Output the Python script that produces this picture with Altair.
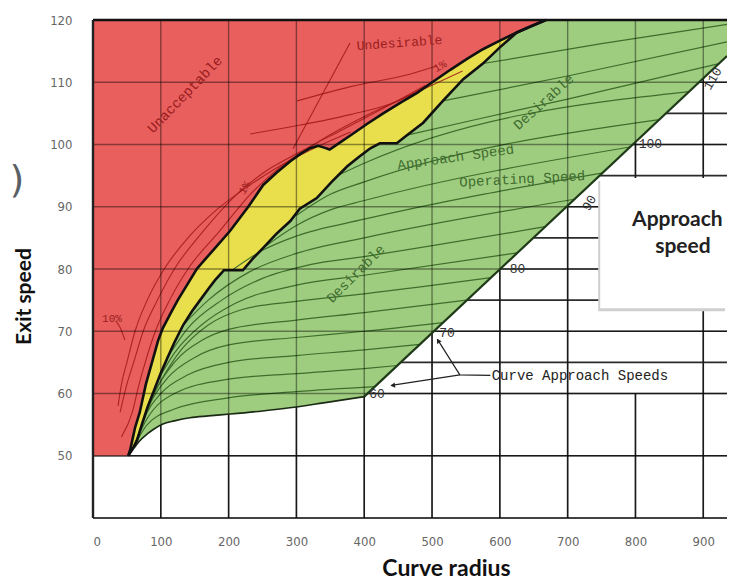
import altair as alt
import pandas as pd

XD = [0, 935]
YD = [40, 120]

# ---- region boundaries (data units) ----
upper_x = [52, 55, 62, 69, 78, 87, 96, 103, 114, 125, 139, 153, 165, 177, 202, 229, 251, 271, 291, 306, 320, 332, 341, 349, 364, 379, 404, 428, 453, 478, 503, 527, 551, 575, 600, 625, 646, 668]
upper_y = [50, 51, 54.5, 57, 61.5, 65, 68.5, 70.5, 72.8, 75, 77.5, 80, 81.5, 83, 86.1, 90, 93.5, 95.5, 97.3, 98.5, 99.4, 99.8, 99.5, 99.2, 100.3, 101.4, 103.3, 105, 106.7, 108.3, 110.2, 112, 113.7, 115.3, 116.7, 118, 119, 120]
lower_x = [52, 58, 65, 72, 80, 90, 100, 110, 120, 133, 146, 158, 170, 180, 190, 193, 221, 236, 251, 270, 291, 305, 330, 352, 375, 392, 409, 423, 448, 463, 487, 516, 546, 575, 600, 625, 646, 668]
lower_y = [50, 51, 52.5, 55, 57.7, 60.5, 63.3, 65.8, 68.2, 71, 73.2, 75, 76.8, 78.2, 79.4, 79.8, 79.8, 81.7, 83.4, 85.6, 87.7, 89.7, 91.4, 94, 96.5, 98, 99.4, 100.2, 100.2, 101.5, 103.5, 107, 110.5, 113, 115.6, 118, 119, 120]
green_bottom_x = [52, 56, 60, 68, 80, 90, 103, 120, 143, 170, 202, 250, 290, 340, 400, 935]
green_bottom_y = [50, 50.7, 51.2, 52.3, 53.5, 54.3, 55.1, 55.6, 56.1, 56.4, 56.7, 57.2, 57.7, 58.5, 59.5, 114.2]
diag_x = [400, 935]
diag_y = [59.5, 114.2]

# ---- curve approach speed lines inside the desirable zone ----
green_lines = [
    ([58, 80, 120, 200, 300, 416], [51, 55, 57.5, 59.3, 60.3, 61.1]),
    ([60, 80, 120, 200, 300, 400, 449], [51.6, 56, 60, 62.3, 63.2, 64, 64.5]),
    ([63, 80, 100, 140, 200, 300, 400, 482], [52.3, 57, 60, 63, 65, 66.1, 67, 67.9]),
    ([66, 85, 110, 150, 200, 300, 400, 516], [53, 58.5, 62.5, 65.8, 67.8, 69, 70, 71.4]),
    ([72, 90, 120, 160, 200, 300, 400, 551], [55, 60, 65, 68.5, 70.3, 71.8, 73, 75]),
    ([80, 100, 130, 170, 220, 300, 400, 587], [57.7, 62, 67, 71, 73.5, 74.8, 76, 78.6]),
    ([95, 120, 160, 210, 300, 400, 626], [62, 66.5, 71, 74.5, 77.4, 79, 82.6]),
    ([110, 140, 190, 250, 320, 400, 667], [65.8, 70.5, 75, 78.5, 80.7, 82, 86.8]),
    ([133, 170, 230, 300, 400, 710], [71, 75, 79.5, 82.5, 85, 91.2]),
    ([205, 250, 300, 400, 750], [79.8, 83, 85.3, 88, 95.4]),
    ([251, 300, 350, 400, 792], [83.4, 87, 89.5, 91, 99.6]),
    ([300, 350, 400, 835], [88.6, 92, 94, 104]),
    ([360, 400, 879], [95, 97, 108.5]),
    ([463, 560, 700, 923], [101.5, 103.9, 107.3, 113]),
    ([516, 700, 935], [107, 111, 116.5]),
    ([575, 750, 935], [113, 116.2, 119.3]),
]

# ---- dark red lines inside the unacceptable zone ----
red_lines = [
    ([42, 58, 68, 77, 92, 113, 140, 186, 232, 272, 330, 400, 480, 545], [53, 57, 61.5, 65, 70, 75, 80, 86, 92, 96, 100.3, 104.5, 108.5, 111.8]),
    ([40, 50, 60, 74, 95, 120, 162, 212, 252, 300, 370, 440, 490], [57, 61.5, 65, 70, 75, 80, 86, 92, 95.5, 98.5, 102.5, 106.5, 109.5]),
    ([37, 42, 50, 62, 80, 105, 140, 180, 225, 270, 330, 380], [58, 61.5, 65, 70, 75, 80, 85, 89.3, 93, 96.2, 99.6, 102]),
    ([232, 300, 379, 450, 493], [101.7, 103, 104.8, 107, 109.5]),
    ([301, 380, 467, 507], [107, 109.3, 111.3, 112.6]),
    ([295, 379], [99.3, 116.3]),
    ([34, 40, 47], [71.6, 70.6, 68.6]),
]

x_ticks = [0, 100, 200, 300, 400, 500, 600, 700, 800, 900]
y_ticks = [50, 60, 70, 80, 90, 100, 110, 120]
# vertical grid segments (x, from, to); the 800 line is broken below the call-out box
vgrid_x = [0, 100, 200, 300, 400, 500, 600, 700, 800, 800, 900]
vgrid_y1 = [40, 40, 40, 40, 40, 40, 40, 40, 40, 73.7, 40]
vgrid_y2 = [120, 120, 120, 120, 120, 120, 120, 120, 60, 120, 120]
grid_y = [40, 50, 60, 70, 80, 90, 100, 110, 120]
half_y = [65, 75, 85, 95, 105]
half_x = [453, 551, 649, 747, 845]

# ---- annotation text ----
notes_txt = ["Unacceptable", "Undesirable", "1%", "1%", "10%"]
notes_x = [136, 452, 224, 512, 28]
notes_y = [108, 116.3, 93, 112.5, 72]
notes_ang = [314, 356, 300, 330, 0]
notes_sz = [14, 13, 11, 11, 11]

gtxt = ["Desirable", "Desirable", "Approach Speed", "Operating Speed"]
gtxt_x = [388, 665, 535, 633]
gtxt_y = [79.2, 106.8, 97.9, 94.4]
gtxt_ang = [315, 318, 352, 357]

dlab = ["60", "70", "80", "90", "100", "110"]
dlab_x = [419, 522, 626, 732, 822, 914]
dlab_y = [59.9, 69.7, 80, 90.6, 100.1, 110.6]
dlab_ang = [0, 0, 0, 300, 0, 300]

box_x = [748]
box_x2 = [935]
box_y = [94.6]
box_y2 = [73.7]

LABEL_FONT = "Liberation Sans Narrow, DejaVu Sans Condensed, Liberation Sans"
X_AXIS = alt.Axis(values=x_ticks, title="Curve radius", grid=False, domain=False, ticks=False,
                  labelPadding=17, labelFontSize=13, labelColor="#666", labelFont=LABEL_FONT,
                  titleFont="Lato", titleFontSize=23, titleFontWeight="bold", titleColor="#111",
                  titleX=353, titleY=57, titleAlign="center", titleBaseline="alphabetic")
Y_AXIS = alt.Axis(values=y_ticks, title="Exit speed", grid=False, domain=False, ticks=False,
                  labelPadding=21, labelFontSize=13, labelColor="#666", labelFont=LABEL_FONT,
                  titleFont="Lato", titleFontSize=21, titleFontWeight="bold", titleColor="#111",
                  titleX=-69, titleY=276, titleAngle=270, titleAlign="center", titleBaseline="middle")


def X(f="x"):
    return alt.X(f"{f}:Q", scale=alt.Scale(domain=XD, nice=False, zero=False), axis=X_AXIS)


def Y(f="y"):
    return alt.Y(f"{f}:Q", scale=alt.Scale(domain=YD, nice=False, zero=False), axis=Y_AXIS)


def series(lines, name):
    rows = []
    for k, (xs, ys) in enumerate(lines):
        for i, (a, b) in enumerate(zip(xs, ys)):
            rows.append({"x": a, "y": b, "id": f"{name}{k}", "i": i})
    return pd.DataFrame(rows)


green_df = pd.DataFrame({"x": green_bottom_x, "y": green_bottom_y})
yellow_df = pd.DataFrame({"x": lower_x, "y": lower_y})
red_df = pd.DataFrame({"x": [0] + upper_x, "y": [50] + upper_y})

green = alt.Chart(green_df).mark_area(color="#9fcd7f", opacity=1).encode(x=X(), y=Y(), y2=alt.datum(120))
yellow = alt.Chart(yellow_df).mark_area(color="#e9df4c").encode(x=X(), y=Y(), y2=alt.datum(120))
red = alt.Chart(red_df).mark_area(color="#e85f5e").encode(x=X(), y=Y(), y2=alt.datum(120))

vgrid_df = pd.DataFrame({"x": vgrid_x, "y": vgrid_y1, "y2": vgrid_y2})
hgrid_df = pd.DataFrame({"y": grid_y})
grid_under_v = alt.Chart(vgrid_df).mark_rule(color="#2b2b2b", strokeWidth=1.6).encode(x=X(), y=Y(), y2="y2:Q")
grid_under_h = alt.Chart(hgrid_df).mark_rule(color="#2b2b2b", strokeWidth=1.6).encode(y=Y())
grid_over_v = alt.Chart(vgrid_df).mark_rule(color="#000", strokeWidth=1.4, opacity=0.42).encode(x=X(), y=Y(), y2="y2:Q")
grid_over_h = alt.Chart(hgrid_df).mark_rule(color="#000", strokeWidth=1.4, opacity=0.42).encode(y=Y())
half_df = pd.DataFrame({"x": half_x, "x2": [935] * len(half_x), "y": half_y})
half = alt.Chart(half_df).mark_rule(color="#2b2b2b", strokeWidth=1.6).encode(x=X(), x2="x2:Q", y=Y())

gl = alt.Chart(series(green_lines, "g")).mark_line(color="#3d6e2c", strokeWidth=1.2, interpolate="monotone").encode(
    x=X(), y=Y(), detail="id:N", order="i:Q")
rl = alt.Chart(series(red_lines, "r")).mark_line(color="#a31818", strokeWidth=1.1, opacity=0.85, interpolate="monotone").encode(
    x=X(), y=Y(), detail="id:N", order="i:Q")

bnd = series([(upper_x, upper_y), (lower_x, lower_y)], "b")
bound = alt.Chart(bnd).mark_line(color="#111", strokeWidth=2.6).encode(x=X(), y=Y(), detail="id:N", order="i:Q")
gb = alt.Chart(pd.DataFrame({"x": green_bottom_x[:-1], "y": green_bottom_y[:-1]})).mark_line(
    color="#1a2a14", strokeWidth=1.6, interpolate="monotone").encode(x=X(), y=Y())
dg = alt.Chart(pd.DataFrame({"x": diag_x, "y": diag_y})).mark_line(color="#1f3a18", strokeWidth=2.2).encode(x=X(), y=Y())

border = alt.Chart(pd.DataFrame({"y": [120]})).mark_rule(color="#111", strokeWidth=2.6).encode(y=Y())
lborder = alt.Chart(pd.DataFrame({"x": [0]})).mark_rule(color="#222", strokeWidth=2.4).encode(x=X())

notes = alt.Chart(pd.DataFrame({"t": notes_txt, "x": notes_x, "y": notes_y, "a": notes_ang, "s": notes_sz})).mark_text(
    font="Liberation Mono", color="#9a1d1d", align="center", baseline="middle").encode(
    x=X(), y=Y(), text="t:N", angle=alt.Angle("a:Q", scale=None), size=alt.Size("s:Q", scale=None))
gnotes = alt.Chart(pd.DataFrame({"t": gtxt, "x": gtxt_x, "y": gtxt_y, "a": gtxt_ang})).mark_text(
    font="Liberation Mono", color="#3f6c30", fontSize=14, align="center", baseline="middle").encode(
    x=X(), y=Y(), text="t:N", angle=alt.Angle("a:Q", scale=None))
dlabs = alt.Chart(pd.DataFrame({"t": dlab, "x": dlab_x, "y": dlab_y, "a": dlab_ang})).mark_text(
    font="Liberation Mono", color="#333", fontSize=13, align="center", baseline="middle").encode(
    x=X(), y=Y(), text="t:N", angle=alt.Angle("a:Q", scale=None))

# Curve approach speeds call-out
cas_txt = alt.Chart(pd.DataFrame({"t": ["Curve Approach Speeds"], "x": [588], "y": [62.8]})).mark_text(
    font="Liberation Mono", color="#222", fontSize=14, align="left", baseline="middle").encode(x=X(), y=Y(), text="t:N")
cas_lines = series([([586, 541, 508], [62.9, 63.0, 68.7]), ([541, 440], [63.0, 61.3])], "c")
cas = alt.Chart(cas_lines).mark_line(color="#222", strokeWidth=1.2).encode(x=X(), y=Y(), detail="id:N", order="i:Q")
heads = alt.Chart(pd.DataFrame({"x": [509, 442], "y": [68.5, 61.3], "a": [328, 261]})).mark_point(
    shape="triangle-up", filled=True, color="#222", size=28, opacity=1).encode(
    x=X(), y=Y(), angle=alt.Angle("a:Q", scale=None))

# white call-out box
shadow = alt.Chart(pd.DataFrame({"x": box_x, "x2": box_x2, "y": box_y, "y2": box_y2})).mark_rect(
    color="#cfcfcf", xOffset=-2, yOffset=3, x2Offset=-2, y2Offset=3).encode(x=X(), x2="x2:Q", y=Y(), y2="y2:Q")
box = alt.Chart(pd.DataFrame({"x": box_x, "x2": box_x2, "y": box_y, "y2": box_y2})).mark_rect(
    color="#ffffff").encode(x=X(), x2="x2:Q", y=Y(), y2="y2:Q")
box_txt1 = alt.Chart(pd.DataFrame({"t": ["Approach"], "x": [795], "y": [86.9]})).mark_text(
    font="Lato", fontWeight="bold", fontSize=21, color="#222", baseline="alphabetic", align="left").encode(
    x=X(), y=Y(), text="t:N")
box_txt2 = alt.Chart(pd.DataFrame({"t": ["speed"], "x": [870], "y": [82.6]})).mark_text(
    font="Lato", fontWeight="bold", fontSize=21, color="#222", baseline="alphabetic", align="center").encode(
    x=X(), y=Y(), text="t:N")

paren = alt.Chart(pd.DataFrame({"t": [")"]})).mark_text(
    font="DejaVu Sans", fontSize=38, fontWeight="normal", color="#5a5f66", align="center", baseline="middle").encode(
    x=alt.value(-76), y=alt.value(161), text="t:N")

chart = alt.layer(
    grid_under_v, grid_under_h, half,
    green, yellow, red,
    gl, rl,
    grid_over_v, grid_over_h,
    gb, dg, bound, border, lborder,
    shadow, box,
    notes, gnotes, dlabs, cas, heads, cas_txt, box_txt1, box_txt2, paren,
).properties(
    width=634, height=498,
    autosize=alt.AutoSizeParams(type="none"),
    padding={"left": 85, "top": 12, "right": 0, "bottom": 66},
).configure_view(stroke=None)

chart.save("out.html", embed_options={"renderer": "svg", "actions": False})
